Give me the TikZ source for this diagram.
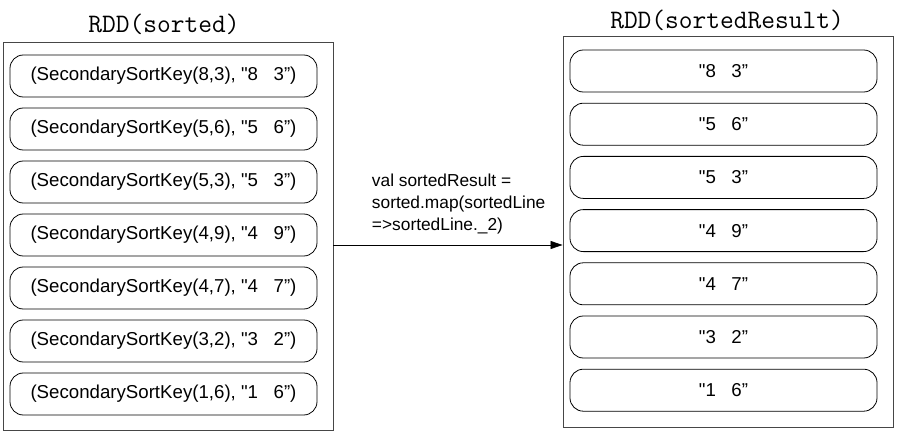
\documentclass[tikz,border=0pt]{standalone}
\usepackage{fontspec}
\setmainfont{Liberation Sans}
\usetikzlibrary{arrows.meta,positioning}
\definecolor{rddgray}{RGB}{70,70,70}
\tikzset{
  rdd/.style={rectangle,draw=rddgray,line width=0.7pt,
              minimum width=247.5pt,inner sep=0pt},
  rec/.style={rectangle,rounded corners=10pt,draw=black,line width=0.6pt,
              minimum width=230.25pt,minimum height=31.5pt,inner sep=0pt,
              font=\fontsize{14pt}{16pt}\selectfont},
  rddtitle/.style={font=\ttfamily\fontsize{20pt}{22pt}\selectfont},
  arr/.style={-{Triangle[length=9pt,width=6pt]},line width=0.6pt},
}
\begin{document}
\begin{tikzpicture}[x=0.75pt,y=-0.75pt]
    \useasboundingbox (0,0) rectangle (897,435);
    % the two RDDs
    \node[rdd,minimum height=291pt] (srcbox) at (168,236) {};
    \node[rdd,minimum height=293.25pt] (dstbox) at (728,231.5) {};
    \node[rddtitle] (srctitle) at (164,24) {RDD(sorted)};
    \node[rddtitle] (dsttitle) at (727,20) {RDD(sortedResult)};
    % records
    \foreach \a/\b [count=\i] in {8/3,5/6,5/3,4/9,4/7,3/2,1/6} {
      \node[rec] (src\i) at (163.5,{76+53*(\i-1)})
        {(SecondarySortKey(\a,\b), \textquotedbl\a\ \ \ \b”)};
      \node[rec] (dst\i) at (723.5,{71+53.2*(\i-1)})
        {\textquotedbl\a\ \ \ \b”};
    }
    \draw[arr] ([yshift=-6.75pt]srcbox.east)
      -- node[above,align=left,xshift=8pt,yshift=4.5pt,
              font=\fontsize{13pt}{16.5pt}\selectfont]
           {val sortedResult =\\sorted.map(sortedLine\\=>sortedLine.\_2)}
         ([yshift=-6.75pt]srcbox.east -| dstbox.west);
  \end{tikzpicture}
\end{document}
